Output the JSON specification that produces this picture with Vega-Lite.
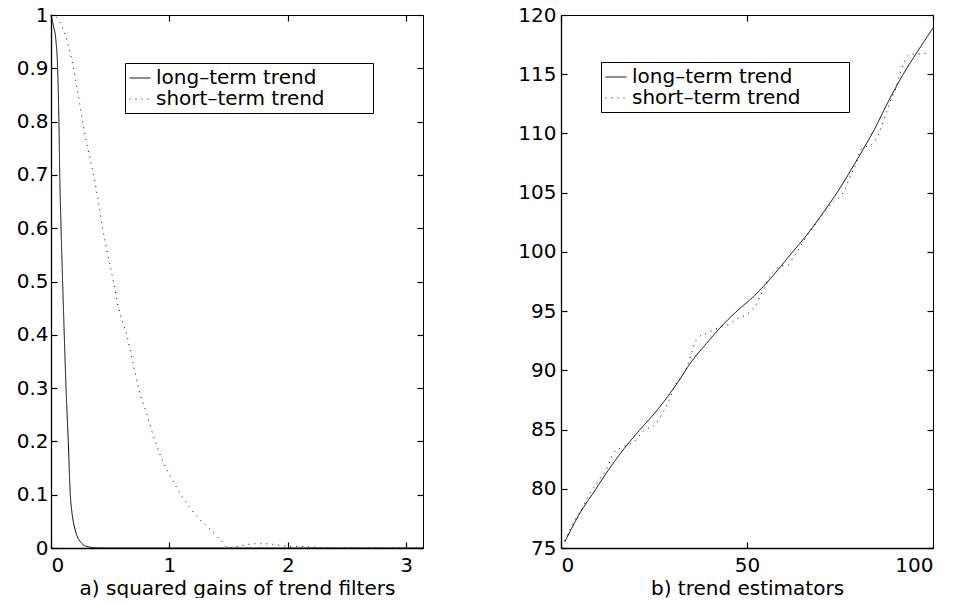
{
  "$schema": "https://vega.github.io/schema/vega-lite/v6.json",
  "background": "white",
  "padding": {"left": 16, "top": 5, "right": 5, "bottom": 0},
  "spacing": 91,
  "config": {
    "font": "DejaVu Sans",
    "view": {"stroke": null},
    "axis": {
      "grid": false,
      "domainColor": "black",
      "domainWidth": 1.3,
      "tickColor": "black",
      "tickWidth": 1.2,
      "tickSize": -6,
      "labelColor": "black",
      "labelFont": "DejaVu Sans",
      "labelFontSize": 20,
      "titleColor": "black",
      "titleFont": "DejaVu Sans",
      "titleFontSize": 20,
      "titleFontWeight": "normal"
    },
    "legend": {
      "orient": "none",
      "title": null,
      "symbolType": "stroke",
      "symbolSize": 441,
      "symbolStrokeWidth": 1,
      "symbolStrokeColor": "black",
      "labelFont": "DejaVu Sans",
      "labelFontSize": 20,
      "labelColor": "black",
      "labelLimit": 500,
      "labelOffset": 5,
      "rowPadding": -12,
      "padding": 4,
      "strokeColor": "black",
      "fillColor": "white"
    }
  },
  "datasets": {
    "gain": [
      {"x": 0, "y": 1, "series": "long–term trend"},
      {"x": 0.02, "y": 0.98, "series": "long–term trend"},
      {"x": 0.04, "y": 0.955, "series": "long–term trend"},
      {"x": 0.056, "y": 0.9, "series": "long–term trend"},
      {"x": 0.067, "y": 0.8, "series": "long–term trend"},
      {"x": 0.074, "y": 0.7, "series": "long–term trend"},
      {"x": 0.085, "y": 0.6, "series": "long–term trend"},
      {"x": 0.098, "y": 0.5, "series": "long–term trend"},
      {"x": 0.112, "y": 0.4, "series": "long–term trend"},
      {"x": 0.127, "y": 0.3, "series": "long–term trend"},
      {"x": 0.146, "y": 0.2, "series": "long–term trend"},
      {"x": 0.163, "y": 0.1, "series": "long–term trend"},
      {"x": 0.175, "y": 0.07, "series": "long–term trend"},
      {"x": 0.188, "y": 0.05, "series": "long–term trend"},
      {"x": 0.205, "y": 0.033, "series": "long–term trend"},
      {"x": 0.225, "y": 0.02, "series": "long–term trend"},
      {"x": 0.25, "y": 0.011, "series": "long–term trend"},
      {"x": 0.28, "y": 0.005, "series": "long–term trend"},
      {"x": 0.32, "y": 0.002, "series": "long–term trend"},
      {"x": 0.38, "y": 0.0005, "series": "long–term trend"},
      {"x": 0.5, "y": 0, "series": "long–term trend"},
      {"x": 1, "y": 0, "series": "long–term trend"},
      {"x": 2, "y": 0, "series": "long–term trend"},
      {"x": 3.1416, "y": 0, "series": "long–term trend"},
      {"x": 0, "y": 1, "series": "short–term trend"},
      {"x": 0.05, "y": 0.995, "series": "short–term trend"},
      {"x": 0.1, "y": 0.975, "series": "short–term trend"},
      {"x": 0.15, "y": 0.94, "series": "short–term trend"},
      {"x": 0.19, "y": 0.9, "series": "short–term trend"},
      {"x": 0.23, "y": 0.85, "series": "short–term trend"},
      {"x": 0.267, "y": 0.8, "series": "short–term trend"},
      {"x": 0.31, "y": 0.75, "series": "short–term trend"},
      {"x": 0.36, "y": 0.7, "series": "short–term trend"},
      {"x": 0.4, "y": 0.65, "series": "short–term trend"},
      {"x": 0.436, "y": 0.6, "series": "short–term trend"},
      {"x": 0.48, "y": 0.55, "series": "short–term trend"},
      {"x": 0.527, "y": 0.5, "series": "short–term trend"},
      {"x": 0.57, "y": 0.45, "series": "short–term trend"},
      {"x": 0.64, "y": 0.4, "series": "short–term trend"},
      {"x": 0.69, "y": 0.35, "series": "short–term trend"},
      {"x": 0.74, "y": 0.3, "series": "short–term trend"},
      {"x": 0.81, "y": 0.25, "series": "short–term trend"},
      {"x": 0.88, "y": 0.2, "series": "short–term trend"},
      {"x": 0.95, "y": 0.16, "series": "short–term trend"},
      {"x": 1.02, "y": 0.13, "series": "short–term trend"},
      {"x": 1.127, "y": 0.09, "series": "short–term trend"},
      {"x": 1.25, "y": 0.055, "series": "short–term trend"},
      {"x": 1.35, "y": 0.034, "series": "short–term trend"},
      {"x": 1.444, "y": 0.012, "series": "short–term trend"},
      {"x": 1.5, "y": 0, "series": "short–term trend"},
      {"x": 1.6, "y": 0.004, "series": "short–term trend"},
      {"x": 1.72, "y": 0.008, "series": "short–term trend"},
      {"x": 1.8, "y": 0.008, "series": "short–term trend"},
      {"x": 1.87, "y": 0.007, "series": "short–term trend"},
      {"x": 1.94, "y": 0.005, "series": "short–term trend"},
      {"x": 2.03, "y": 0.003, "series": "short–term trend"},
      {"x": 2.2, "y": 0.002, "series": "short–term trend"},
      {"x": 2.3, "y": 0, "series": "short–term trend"},
      {"x": 3.1416, "y": 0, "series": "short–term trend"}
    ],
    "trend": [
      {"t": 1, "v": 75.5, "series": "long–term trend"},
      {"t": 5, "v": 77.9, "series": "long–term trend"},
      {"t": 9, "v": 79.8, "series": "long–term trend"},
      {"t": 13, "v": 81.7, "series": "long–term trend"},
      {"t": 17.5, "v": 83.6, "series": "long–term trend"},
      {"t": 21, "v": 84.9, "series": "long–term trend"},
      {"t": 26, "v": 86.7, "series": "long–term trend"},
      {"t": 31, "v": 88.8, "series": "long–term trend"},
      {"t": 35, "v": 90.7, "series": "long–term trend"},
      {"t": 40, "v": 92.6, "series": "long–term trend"},
      {"t": 44, "v": 94.0, "series": "long–term trend"},
      {"t": 48, "v": 95.2, "series": "long–term trend"},
      {"t": 52, "v": 96.3, "series": "long–term trend"},
      {"t": 57, "v": 98.0, "series": "long–term trend"},
      {"t": 62, "v": 99.9, "series": "long–term trend"},
      {"t": 66, "v": 101.4, "series": "long–term trend"},
      {"t": 70, "v": 103.1, "series": "long–term trend"},
      {"t": 75, "v": 105.4, "series": "long–term trend"},
      {"t": 80, "v": 108.0, "series": "long–term trend"},
      {"t": 84, "v": 110.2, "series": "long–term trend"},
      {"t": 88, "v": 112.7, "series": "long–term trend"},
      {"t": 92, "v": 115.0, "series": "long–term trend"},
      {"t": 96, "v": 117.0, "series": "long–term trend"},
      {"t": 100, "v": 118.9, "series": "long–term trend"},
      {"t": 1, "v": 75.6, "series": "short–term trend"},
      {"t": 3.8, "v": 77.4, "series": "short–term trend"},
      {"t": 5.8, "v": 78.4, "series": "short–term trend"},
      {"t": 7.8, "v": 79.6, "series": "short–term trend"},
      {"t": 10.1, "v": 80.7, "series": "short–term trend"},
      {"t": 12.5, "v": 81.8, "series": "short–term trend"},
      {"t": 14.1, "v": 83.0, "series": "short–term trend"},
      {"t": 15.7, "v": 83.4, "series": "short–term trend"},
      {"t": 19.7, "v": 84.0, "series": "short–term trend"},
      {"t": 22.6, "v": 85.0, "series": "short–term trend"},
      {"t": 24.9, "v": 85.3, "series": "short–term trend"},
      {"t": 27.1, "v": 86.3, "series": "short–term trend"},
      {"t": 29.1, "v": 87.5, "series": "short–term trend"},
      {"t": 30.4, "v": 88.6, "series": "short–term trend"},
      {"t": 32.2, "v": 89.4, "series": "short–term trend"},
      {"t": 34.0, "v": 90.4, "series": "short–term trend"},
      {"t": 35.2, "v": 91.6, "series": "short–term trend"},
      {"t": 35.8, "v": 92.2, "series": "short–term trend"},
      {"t": 37.0, "v": 92.8, "series": "short–term trend"},
      {"t": 38.9, "v": 93.1, "series": "short–term trend"},
      {"t": 40.9, "v": 93.4, "series": "short–term trend"},
      {"t": 43.4, "v": 93.7, "series": "short–term trend"},
      {"t": 45.2, "v": 93.9, "series": "short–term trend"},
      {"t": 47.0, "v": 94.3, "series": "short–term trend"},
      {"t": 49.2, "v": 94.6, "series": "short–term trend"},
      {"t": 51.0, "v": 95.0, "series": "short–term trend"},
      {"t": 52.4, "v": 95.5, "series": "short–term trend"},
      {"t": 53.3, "v": 96.1, "series": "short–term trend"},
      {"t": 55.1, "v": 97.2, "series": "short–term trend"},
      {"t": 56.1, "v": 97.9, "series": "short–term trend"},
      {"t": 57.3, "v": 98.4, "series": "short–term trend"},
      {"t": 59.1, "v": 98.8, "series": "short–term trend"},
      {"t": 61.1, "v": 98.9, "series": "short–term trend"},
      {"t": 62.4, "v": 99.5, "series": "short–term trend"},
      {"t": 66, "v": 101.3, "series": "short–term trend"},
      {"t": 70, "v": 103.0, "series": "short–term trend"},
      {"t": 73.4, "v": 104.3, "series": "short–term trend"},
      {"t": 75.2, "v": 104.7, "series": "short–term trend"},
      {"t": 76.5, "v": 105.4, "series": "short–term trend"},
      {"t": 77.9, "v": 106.5, "series": "short–term trend"},
      {"t": 79.4, "v": 107.5, "series": "short–term trend"},
      {"t": 80.1, "v": 108.3, "series": "short–term trend"},
      {"t": 81.2, "v": 108.8, "series": "short–term trend"},
      {"t": 83.3, "v": 109.0, "series": "short–term trend"},
      {"t": 84.6, "v": 109.5, "series": "short–term trend"},
      {"t": 85.5, "v": 110.0, "series": "short–term trend"},
      {"t": 86.2, "v": 110.6, "series": "short–term trend"},
      {"t": 87.3, "v": 111.6, "series": "short–term trend"},
      {"t": 88.6, "v": 112.8, "series": "short–term trend"},
      {"t": 90.0, "v": 113.8, "series": "short–term trend"},
      {"t": 90.9, "v": 114.8, "series": "short–term trend"},
      {"t": 91.8, "v": 115.7, "series": "short–term trend"},
      {"t": 92.7, "v": 116.3, "series": "short–term trend"},
      {"t": 94.0, "v": 116.7, "series": "short–term trend"},
      {"t": 96.0, "v": 116.7, "series": "short–term trend"},
      {"t": 98.5, "v": 116.8, "series": "short–term trend"}
    ]
  },
  "hconcat": [
    {
      "width": 372,
      "height": 533,
      "data": {"name": "gain"},
      "layer": [
        {
          "mark": {"type": "line", "interpolate": "monotone", "color": "black", "strokeWidth": 1},
          "encoding": {
            "x": {
              "field": "x", "type": "quantitative",
              "scale": {"domain": [0, 3.1416], "nice": false, "zero": false},
              "axis": {"values": [0, 1, 2, 3], "labelPadding": 13, "title": "a) squared gains of trend filters", "titleBaseline": "alphabetic", "titleY": 46}
            },
            "y": {
              "field": "y", "type": "quantitative",
              "scale": {"domain": [0, 1], "nice": false},
              "axis": {"values": [0, 0.1, 0.2, 0.3, 0.4, 0.5, 0.6, 0.7, 0.8, 0.9, 1], "format": ".1~f", "labelPadding": 9, "title": null}
            },
            "strokeDash": {
              "field": "series", "type": "nominal",
              "scale": {"domain": ["long–term trend", "short–term trend"], "range": [[1, 0], [1, 5]]},
              "legend": {"legendX": 74, "legendY": 48, "labelExpr": "datum.label + '\u2800\u2800\u2800'"}
            }
          }
        },
        {
          "mark": {"type": "point", "opacity": 0},
          "encoding": {
            "x": {"field": "x", "type": "quantitative", "axis": {"orient": "top", "values": [0, 1, 2, 3], "labels": false, "title": null, "domainWidth": 1}},
            "y": {"field": "y", "type": "quantitative", "axis": {"orient": "right", "values": [0, 0.1, 0.2, 0.3, 0.4, 0.5, 0.6, 0.7, 0.8, 0.9, 1], "labels": false, "title": null, "domainWidth": 1}}
          }
        }
      ],
      "resolve": {"axis": {"x": "independent", "y": "independent"}}
    },
    {
      "width": 372,
      "height": 533,
      "data": {"name": "trend"},
      "layer": [
        {
          "mark": {"type": "line", "interpolate": "monotone", "color": "black", "strokeWidth": 1},
          "encoding": {
            "x": {
              "field": "t", "type": "quantitative",
              "scale": {"domain": [0, 100], "nice": false},
              "axis": {"values": [0, 50, 100], "labelPadding": 13, "title": "b) trend estimators", "titleBaseline": "alphabetic", "titleY": 46}
            },
            "y": {
              "field": "v", "type": "quantitative",
              "scale": {"domain": [75, 120], "nice": false, "zero": false},
              "axis": {"values": [75, 80, 85, 90, 95, 100, 105, 110, 115, 120], "labelPadding": 11, "title": null}
            },
            "strokeDash": {
              "field": "series", "type": "nominal",
              "scale": {"domain": ["long–term trend", "short–term trend"], "range": [[1, 0], [1, 5]]},
              "legend": {"legendX": 40, "legendY": 47, "labelExpr": "datum.label + '\u2800\u2800\u2800'"}
            }
          }
        },
        {
          "mark": {"type": "point", "opacity": 0},
          "encoding": {
            "x": {"field": "t", "type": "quantitative", "axis": {"orient": "top", "values": [0, 50, 100], "labels": false, "title": null, "domainWidth": 1}},
            "y": {"field": "v", "type": "quantitative", "axis": {"orient": "right", "values": [75, 80, 85, 90, 95, 100, 105, 110, 115, 120], "labels": false, "title": null, "domainWidth": 1}}
          }
        }
      ],
      "resolve": {"axis": {"x": "independent", "y": "independent"}}
    }
  ],
  "resolve": {"scale": {"strokeDash": "independent"}, "legend": {"strokeDash": "independent"}}
}
